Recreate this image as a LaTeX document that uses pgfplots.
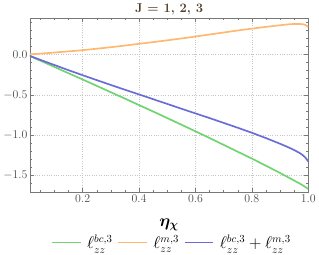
\documentclass[border=0pt]{standalone}
\usepackage{pgfplots}
\pgfplotsset{compat=1.18}
\usepackage{bm}
\definecolor{cgreen}{RGB}{112,212,112}
\definecolor{corange}{RGB}{255,184,112}
\definecolor{cblue}{RGB}{108,108,214}
\definecolor{cframe}{RGB}{120,120,120}
\definecolor{ctitle}{RGB}{80,60,40}
\begin{document}
\begin{tikzpicture}
\begin{axis}[
  scale only axis, width=280bp, height=175bp,
  xmin=0.013, xmax=1.0, ymin=-1.705, ymax=0.45,
  xtick={0.2,0.4,0.6,0.8,1.0},
  ytick={-1.5,-1.0,-0.5,0.0},
  xticklabels={0.2,0.4,0.6,0.8,1.0},
  yticklabels={$-1.5$,$-1.0$,$-0.5$,0.0},
  minor xtick={0.05,0.1,0.15,0.25,0.3,0.35,0.45,0.5,0.55,0.65,0.7,0.75,0.85,0.9,0.95},
  minor ytick={-1.6,-1.4,-1.3,-1.2,-1.1,-0.9,-0.8,-0.7,-0.6,-0.4,-0.3,-0.2,-0.1,0.1,0.2,0.3,0.4},
  tick align=inside, major tick length=4pt, minor tick length=2pt,
  every tick/.style={cframe, line width=0.4pt},
  axis line style={cframe, line width=0.6pt},
  grid=major, major grid style={gray!45, dotted, line width=0.5pt},
  tick label style={font=\fontsize{12}{13}\selectfont, text=black!70},
  xticklabel style={yshift=1pt},
  yticklabel style={xshift=1pt},
  title={\textbf{J = 1, 2, 3}}, title style={font=\fontsize{13}{14}\selectfont, text=ctitle, yshift=-6pt},
  xlabel={$\bm{\eta_\chi}$}, xlabel style={font=\fontsize{17}{18}\selectfont, yshift=-9pt},
  legend columns=3,
  legend style={at={(0.51,-0.225)}, anchor=north, draw=none, fill=none, font=\fontsize{16}{17}\selectfont,
    inner xsep=0pt, inner ysep=2pt, outer sep=0pt,
    /tikz/every odd column/.append style={column sep=4pt},
    /tikz/every even column/.append style={column sep=3pt}},
  legend image code/.code={\draw[#1, line width=1.3pt] (0bp,0bp) -- (29bp,0bp);},
]
\addplot[cgreen, line width=1.7pt] coordinates {
(0,0) (0.01,-0.015) (0.05,-0.077) (0.1,-0.155) (0.15,-0.233) (0.2,-0.31) (0.25,-0.389) (0.3,-0.468) (0.35,-0.547) (0.4,-0.627) (0.45,-0.707) (0.5,-0.788) (0.55,-0.870) (0.6,-0.952) (0.65,-1.035) (0.7,-1.12) (0.75,-1.205) (0.8,-1.29) (0.85,-1.378) (0.9,-1.468) (0.93,-1.524) (0.95,-1.562) (0.97,-1.60) (0.98,-1.62) (0.99,-1.643) (1.0,-1.665)};
\addlegendentry{$\ell^{bc,3}_{zz}$}
\addplot[corange, line width=1.7pt] coordinates {
(0,0) (0.01,0.001) (0.05,0.01) (0.1,0.024) (0.15,0.038) (0.2,0.053) (0.25,0.071) (0.3,0.09) (0.35,0.11) (0.4,0.132) (0.45,0.153) (0.5,0.175) (0.55,0.198) (0.6,0.222) (0.65,0.247) (0.7,0.272) (0.75,0.297) (0.8,0.32) (0.85,0.342) (0.9,0.362) (0.93,0.373) (0.95,0.378) (0.97,0.378) (0.98,0.374) (0.99,0.365) (1.0,0.34)};
\addlegendentry{$\ell^{m,3}_{zz}$}
\addplot[cblue, line width=1.7pt] coordinates {
(0,0) (0.01,-0.014) (0.05,-0.067) (0.1,-0.131) (0.15,-0.195) (0.2,-0.257) (0.25,-0.318) (0.3,-0.378) (0.35,-0.437) (0.4,-0.495) (0.45,-0.554) (0.5,-0.613) (0.55,-0.672) (0.6,-0.730) (0.65,-0.788) (0.7,-0.848) (0.75,-0.908) (0.8,-0.970) (0.85,-1.036) (0.9,-1.106) (0.93,-1.151) (0.95,-1.184) (0.97,-1.222) (0.98,-1.246) (0.99,-1.278) (1.0,-1.325)};
\addlegendentry{$\ell^{bc,3}_{zz}+\ell^{m,3}_{zz}$}
\end{axis}
\end{tikzpicture}
\end{document}
